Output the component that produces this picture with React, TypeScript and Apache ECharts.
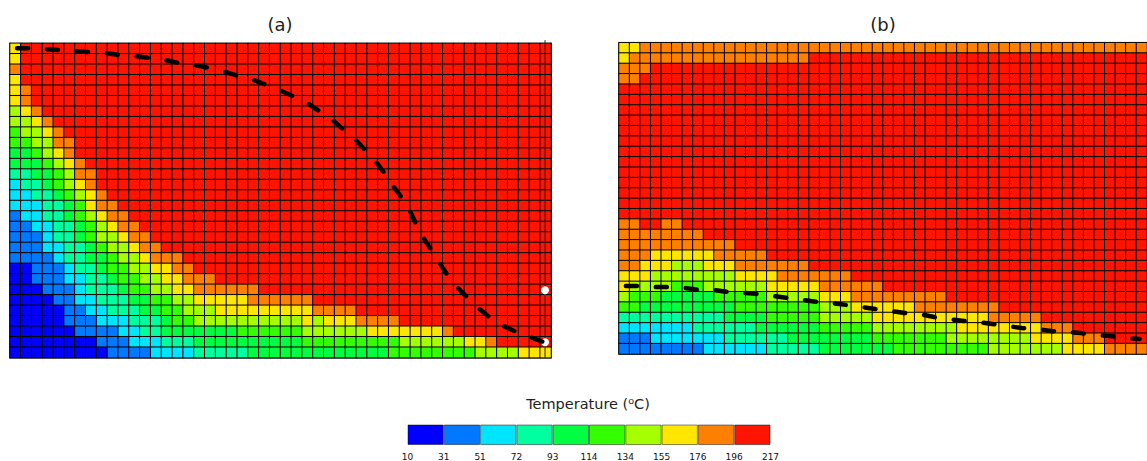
import React, { useEffect, useRef } from "react";
import * as echarts from "echarts";

const tickLabels = [10, 31, 51, 72, 93, 114, 134, 155, 176, 196, 217];
const bandColors = ["#0000ff", "#0078ff", "#00e5ff", "#00ff9f", "#00ff40", "#33ff00", "#a6ff00", "#ffe600", "#ff8000", "#ff1400"];
const bandValues = [20, 41, 61, 82, 103, 124, 144, 165, 186, 206];

// Each row lists its band indices (0-9) from the left; cells not listed are in band 9.
const panelARows = [
  "7", "7", "8", "7", "78", "78", "678", "6678", "56678", "556688",
  "445678", "4445678", "33445688", "23345678", "223345678",
  "2223345788",
  "12233456788",
  "112233456788",
  "1112334566788",
  "11122334566788",
  "1111233445667888",
  "00111233455667788",
  "0011122334556677888",
  "00011123334556677888888",
  "0000112233344556677777888888",
  "00000112233344556667777777778888",
  "000001112223334556666666666767778888",
  "00000011112233444444455555566666677777778",
  "000000001112223334444444444555555555666666778",
  "00000000011112222333334444444444444555555556666777",
];
const panelBRows = [
  "77888888888888888888888888888888888888888888888888",
  "788888888888888888",
  "888", "88", "", "", "", "", "", "", "", "", "", "", "", "", "",
  "889988",
  "88888888",
  "88888888888",
  "88877777788888",
  "887776667778888888",
  "7776666666677778888888",
  "7666655566666677777888888",
  "6555444445555566666777888888888",
  "554444444445555555566677777788888888",
  "3333333333444455555666667777777777788888",
  "2222222333333444444555556666666677777777888",
  "1112222222333333444444445555555666666667777888",
  "11111111222222333334444444555555555666666677778888",
];

const curveAX = [0.65, 1.94, 3.42, 4.71, 6.1, 7.49, 8.87, 10.26, 11.65, 12.94, 14.42, 15.71, 17.19, 18.48, 19.96, 21.16, 22.55, 23.75, 25.14, 26.34, 27.63, 28.74, 29.94, 30.96, 32.07, 32.99, 33.92, 34.75, 35.49, 36.32, 37.06, 37.62, 38.35, 39.09, 39.83, 40.57, 41.5, 42.42, 43.53, 44.55, 45.84, 47.04, 48.34, 49.63];
const curveAY = [29.53, 29.53, 29.44, 29.34, 29.25, 29.15, 29.06, 28.87, 28.77, 28.58, 28.39, 28.1, 27.91, 27.62, 27.24, 26.86, 26.48, 26, 25.43, 24.86, 24.19, 23.43, 22.57, 21.61, 20.66, 19.61, 18.56, 17.41, 16.27, 15.12, 13.79, 12.55, 11.21, 10.07, 8.83, 7.68, 6.54, 5.58, 4.53, 3.67, 2.91, 2.34, 1.86, 1.38];
const curveBX = [0.65, 2.05, 3.44, 4.84, 6.23, 7.63, 9.02, 10.42, 11.81, 13.21, 14.6, 16, 17.4, 18.79, 20.19, 21.58, 22.98, 24.28, 25.67, 27.07, 28.47, 29.86, 31.26, 32.65, 33.95, 35.35, 36.74, 38.14, 39.53, 40.93, 42.33, 43.72, 45.12, 46.51, 47.91, 49.3];
const curveBY = [6.55, 6.55, 6.45, 6.45, 6.36, 6.17, 6.17, 5.97, 5.88, 5.78, 5.59, 5.39, 5.2, 5.01, 4.91, 4.72, 4.53, 4.34, 4.14, 3.95, 3.85, 3.56, 3.37, 3.18, 3.08, 2.89, 2.7, 2.5, 2.41, 2.22, 2.12, 2.02, 1.83, 1.73, 1.54, 1.45];
const probeX = [49.45, 49.45];
const probeY = [6.44, 1.48];

const COLS = 50;
const ROWS = 30;
const colNames = Array.from({ length: COLS }, (_, i) => String(i));
const rowNames = Array.from({ length: ROWS }, (_, i) => String(i));
const cells = (rows: string[]) =>
  rows.flatMap((row, r) =>
    row.padEnd(COLS, "9").split("").map((d, c) => [c, r, bandValues[Number(d)]])
  );
const zip = (xs: number[], ys: number[]) => xs.map((x, i) => [x, ys[i]]);

const FONT = "DejaVu Sans";
const edge = { show: true, lineStyle: { color: "#8a8a8a", width: 2 } };

function buildOption(): any {
  const catX = (gridIndex: number) => ({
    type: "category", gridIndex, data: colNames, position: "bottom",
    axisLine: { ...edge, onZero: false }, axisTick: { show: false }, axisLabel: { show: false }, splitLine: { show: false },
  });
  const catY = (gridIndex: number) => ({
    type: "category", gridIndex, data: rowNames, inverse: true,
    axisLine: { ...edge, onZero: false }, axisTick: { show: false }, axisLabel: { show: false }, splitLine: { show: false },
  });
  const valX = (gridIndex: number) => ({ type: "value", gridIndex, min: 0, max: COLS, show: false });
  const valY = (gridIndex: number, right: boolean) => ({
    type: "value", gridIndex, min: 0, max: ROWS, position: "right",
    axisLine: right ? { show: true, onZero: false, lineStyle: { color: "#8a8a8a", width: 2 } } : { show: false },
    axisTick: { show: false }, axisLabel: { show: false }, splitLine: { show: false },
  });
  const heat = (i: number, rows: string[]) => ({
    type: "heatmap", xAxisIndex: i, yAxisIndex: i, data: cells(rows),
    itemStyle: { borderColor: "#000", borderWidth: 1 }, emphasis: { disabled: true }, progressive: 0,
  });
  const curve = (i: number, xs: number[], ys: number[]) => ({
    type: "line", xAxisIndex: i, yAxisIndex: i, data: zip(xs, ys), showSymbol: false, clip: false, z: 6,
    lineStyle: { color: "#000", width: 4.5, type: [11, 19], cap: "round", join: "round" },
  });
  const legendBars = bandColors.map((color, i) => ({
    type: "bar", xAxisIndex: 4, yAxisIndex: 4, stack: "scale", data: [1], barWidth: "100%",
    itemStyle: { color, borderColor: "rgba(0,0,0,0.45)", borderWidth: 1 },
    name: `${tickLabels[i]}-${tickLabels[i + 1]}`,
  }));
  return {
    animation: false,
    backgroundColor: "#fff",
    title: [
      { text: "(a)", left: 275, top: 10, textAlign: "center", textStyle: { fontFamily: FONT, fontSize: 18, fontWeight: "normal", color: "#222" } },
      { text: "(b)", left: 878, top: 10, textAlign: "center", textStyle: { fontFamily: FONT, fontSize: 18, fontWeight: "normal", color: "#222" } },
      { text: "Temperature (⁰C)", left: 583, top: 391, textAlign: "center", textStyle: { fontFamily: FONT, fontSize: 14.5, fontWeight: "normal", color: "#222" } },
    ],
    grid: [
      { left: 10, top: 43.3, width: 541, height: 314.4 },
      { left: 619, top: 42.7, width: 537.5, height: 311.3 },
      { left: 10, top: 43.3, width: 541, height: 314.4 },
      { left: 619, top: 42.7, width: 537.5, height: 311.3 },
      { left: 407.5, top: 424.5, width: 363, height: 22 },
    ],
    visualMap: {
      show: false, type: "piecewise", seriesIndex: [0, 1], dimension: 2,
      pieces: bandColors.map((color, i) => ({ gte: tickLabels[i], lt: tickLabels[i + 1], color })),
    },
    xAxis: [
      catX(0), catX(1), valX(2), valX(3),
      {
        type: "value", gridIndex: 4, min: 0, max: 10, interval: 1, axisLine: { show: false }, axisTick: { show: false }, splitLine: { show: false },
        axisLabel: { margin: 7, fontFamily: FONT, fontSize: 9, color: "#111", formatter: (v: number) => String(tickLabels[v]) },
      },
    ],
    yAxis: [
      catY(0), catY(1), valY(2, true), valY(3, false),
      { type: "category", gridIndex: 4, data: ["Temperature"], show: false },
    ],
    series: [
      heat(0, panelARows),
      heat(1, panelBRows),
      {
        type: "line", name: "probe", xAxisIndex: 2, yAxisIndex: 2, data: [[49.45, 0], [49.45, 30.3]], showSymbol: false, clip: false, z: 4,
        lineStyle: { color: "#222", width: 1 },
      },
      {
        type: "scatter", name: "probes", xAxisIndex: 2, yAxisIndex: 2, data: zip(probeX, probeY), symbolSize: 8, z: 5, clip: false,
        itemStyle: { color: "#fff", opacity: 1 },
      },
      curve(2, curveAX, curveAY),
      curve(3, curveBX, curveBY),
      ...legendBars,
    ],
  };
}

export default function App() {
  const ref = useRef<HTMLDivElement>(null);
  useEffect(() => {
    document.body.style.margin = "0";
    const chart = echarts.init(ref.current!, undefined, { renderer: "svg" });
    chart.setOption(buildOption());
    return () => chart.dispose();
  }, []);
  return <div ref={ref} style={{ width: 1147, height: 461 }} />;
}
